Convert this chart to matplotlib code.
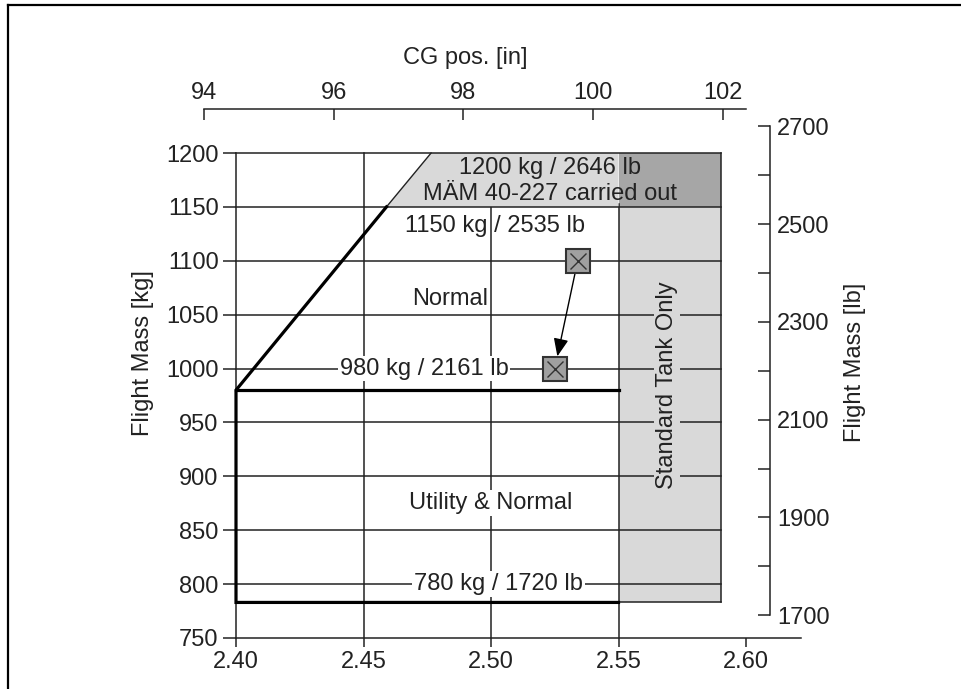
import matplotlib.pyplot as plt
from matplotlib.patches import Polygon, Rectangle
from matplotlib.lines import Line2D

plt.rcParams['font.family'] = ['Liberation Sans', 'DejaVu Sans']
plt.rcParams['font.size'] = 17

KG2LB = 2.20462
IN2M = 0.0254

# axis ticks
x_ticks = [2.40, 2.45, 2.50, 2.55, 2.60]          # CG pos [m]
y_ticks = [750, 800, 850, 900, 950, 1000, 1050, 1100, 1150, 1200]  # kg
in_ticks = [94, 96, 98, 100, 102]
lb_major = [1700, 1900, 2100, 2300, 2500, 2700]
lb_minor = [1800, 2000, 2200, 2400, 2600]

# envelope corners (CG m, mass kg)
fwd_cg = [2.40, 2.40, 2.459]
fwd_mass = [783, 980, 1150]
aft_cg = 2.55
tank_cg = 2.59
min_mass = 783
utility_mass = 980
normal_mass = 1150
max_mass = 1200
ext_cg = [2.459, 2.4765]          # extension of fwd limit for 1200 kg

# loading example (start -> end)
pt_cg = [2.534, 2.525]
pt_mass = [1100, 1000]

fig = plt.figure(figsize=(9.61, 6.89), dpi=100)
ax = fig.add_axes([185 / 961, 51 / 689, 637.5 / 961, 513 / 689])
ax.set_xlim(2.38, 2.63)
ax.set_ylim(750, 1226)

ink = '#222222'
light = '#d9d9d9'
dark = '#a6a6a6'

# shaded areas
ax.add_patch(Rectangle((aft_cg, min_mass), tank_cg - aft_cg, normal_mass - min_mass,
                       facecolor=light, edgecolor='none', zorder=0.5))
ax.add_patch(Rectangle((aft_cg, normal_mass), tank_cg - aft_cg, max_mass - normal_mass,
                       facecolor=dark, edgecolor='none', zorder=0.5))
ax.add_patch(Polygon([(ext_cg[0], normal_mass), (ext_cg[1], max_mass),
                      (aft_cg, max_mass), (aft_cg, normal_mass)],
                     closed=True, facecolor=light, edgecolor='none', zorder=1.5))
ax.plot(ext_cg, [normal_mass, max_mass], color=ink, lw=1.0, zorder=1.6)

# grid
for x in x_ticks[1:4]:
    top = max_mass if x < ext_cg[0] else normal_mass + 3
    ax.plot([x, x], [750, top], color=ink, lw=1.1, zorder=1)
ax.plot([tank_cg, tank_cg], [min_mass, max_mass], color=ink, lw=1.1, zorder=1)
for y in y_ticks[1:]:
    ax.plot([2.40, tank_cg], [y, y], color=ink, lw=1.1, zorder=2)
ax.plot([aft_cg, tank_cg], [min_mass, min_mass], color=ink, lw=1.1, zorder=2)

# envelope
ax.plot([aft_cg] + fwd_cg, [min_mass] + fwd_mass, color='black', lw=2.3,
        solid_joinstyle='miter', zorder=4)
ax.plot([2.40, aft_cg], [utility_mass, utility_mass], color='black', lw=2.3, zorder=4)

# texts
white = dict(boxstyle='square,pad=0.08', facecolor='white', edgecolor='none')
ax.text(2.523, 1186, '1200 kg / 2646 lb', ha='center', va='center', color=ink, zorder=3)
ax.text(2.523, 1162, 'MÄM 40-227 carried out', ha='center', va='center', color=ink, zorder=3)
ax.text(2.5016, 1132, '1150 kg / 2535 lb', ha='center', va='center', color=ink, zorder=3)
ax.text(2.484, 1065, 'Normal', ha='center', va='center', color=ink, zorder=3, bbox=white)
ax.text(2.4737, 1000, '980 kg / 2161 lb', ha='center', va='center', color=ink, zorder=3, bbox=white)
ax.text(2.50, 875, 'Utility & Normal', ha='center', va='center', color=ink, zorder=3, bbox=white)
ax.text(2.503, 800, '780 kg / 1720 lb', ha='center', va='center', color=ink, zorder=3, bbox=white)
ax.text(2.569, 985, 'Standard Tank Only', rotation=90, ha='center', va='center', color=ink,
        zorder=3, bbox=dict(boxstyle='square,pad=0.08', facecolor=light, edgecolor='none'))

# loading example markers + arrow
ax.annotate('', xy=(pt_cg[1], pt_mass[1]), xytext=(pt_cg[0], pt_mass[0]),
            arrowprops=dict(arrowstyle='-|>,head_length=0.6,head_width=0.25', color='black',
                            lw=1.0, shrinkA=9, shrinkB=9, mutation_scale=18), zorder=5)
ax.plot(pt_cg, pt_mass, ls='none', marker='s', ms=17, mfc='#a0a0a0', mec='#333333',
        mew=1.5, zorder=6)
ax.plot(pt_cg, pt_mass, ls='none', marker='x', ms=11, mec='#333333', mew=1.0, zorder=7)

# main axes styling
for s in ['top', 'right']:
    ax.spines[s].set_visible(False)
ax.spines['left'].set_position(('data', 2.40))
ax.spines['left'].set_bounds(750, 1200)
ax.spines['bottom'].set_bounds(2.40, 2.6215)
for s in ['left', 'bottom']:
    ax.spines[s].set_color(ink)
    ax.spines[s].set_linewidth(1.1)
ax.set_xticks(x_ticks)
ax.set_xticklabels([f'{v:.2f}' for v in x_ticks])
ax.set_yticks(y_ticks)
ax.tick_params(axis='x', direction='out', length=6.5, width=1.1, pad=3, color=ink, labelcolor=ink)
ax.tick_params(axis='y', direction='out', length=9.5, width=1.1, pad=3, color=ink, labelcolor=ink)

# top axis in inches
sec_x = ax.secondary_xaxis(1.031, functions=(lambda m: m / IN2M, lambda i: i * IN2M))
sec_x.set_xticks(in_ticks)
sec_x.tick_params(direction='in', length=8, width=1.1, pad=4, color=ink, labelcolor=ink)
sec_x.spines['top'].set_bounds(94, 102.36)
sec_x.spines['top'].set_color(ink)
sec_x.spines['top'].set_linewidth(1.1)

# right axis in pounds
sec_y = ax.secondary_yaxis(0.9176, functions=(lambda k: k * KG2LB, lambda p: p / KG2LB))
sec_y.set_yticks(lb_major)
sec_y.set_yticks(lb_minor, minor=True)
sec_y.tick_params(which='both', direction='in', length=8.5, width=1.1, pad=5,
                  color=ink, labelcolor=ink)
sec_y.spines['right'].set_bounds(1700, 2700)
sec_y.spines['right'].set_color(ink)
sec_y.spines['right'].set_linewidth(1.1)

# axis titles
fig.text(465 / 961, 1 - 58 / 689, 'CG pos. [in]', ha='center', va='center', color=ink)
fig.text(143 / 961, 1 - 353 / 689, 'Flight Mass [kg]', rotation=90, ha='center', va='center', color=ink)
fig.text(855 / 961, 1 - 362 / 689, 'Flight Mass [lb]', rotation=90, ha='center', va='center', color=ink)

# page frame
fig.add_artist(Line2D([7.5 / 961, 7.5 / 961], [0, 1 - 5 / 689], color='black', lw=1.6))
fig.add_artist(Line2D([7.5 / 961, 1], [1 - 5 / 689, 1 - 5 / 689], color='black', lw=1.6))

fig.savefig('out.png', dpi=100)
